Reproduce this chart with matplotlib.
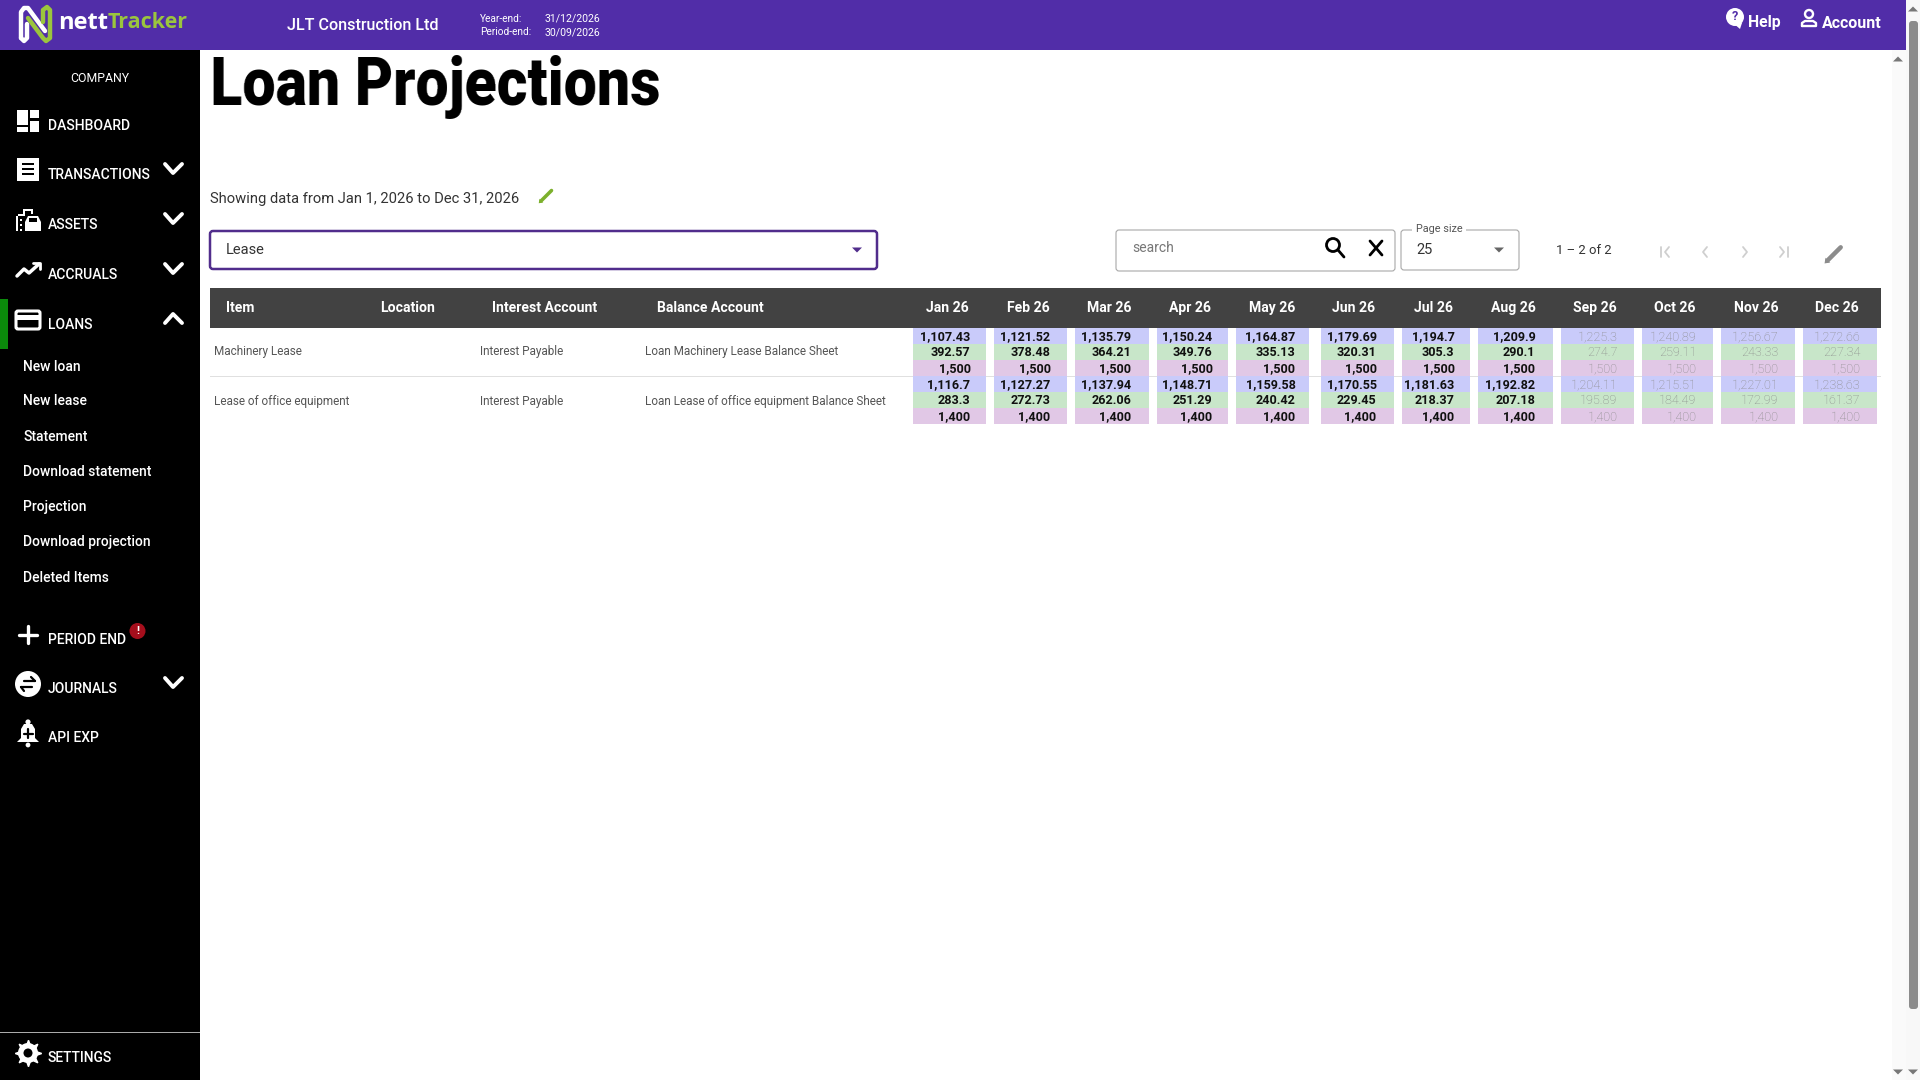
import matplotlib
matplotlib.use("Agg")
import matplotlib.pyplot as plt
import numpy as np
from matplotlib.patches import Rectangle, Circle, Polygon, FancyBboxPatch

months = ["Jan 26","Feb 26","Mar 26","Apr 26","May 26","Jun 26","Jul 26","Aug 26","Sep 26","Oct 26","Nov 26","Dec 26"]
machinery_principal = [1107.43,1121.52,1135.79,1150.24,1164.87,1179.69,1194.7,1209.9,1225.3,1240.89,1256.67,1272.66]
machinery_interest = [392.57,378.48,364.21,349.76,335.13,320.31,305.3,290.1,274.7,259.11,243.33,227.34]
machinery_payment = [1500]*12
office_principal = [1116.7,1127.27,1137.94,1148.71,1159.58,1170.55,1181.63,1192.82,1204.11,1215.51,1227.01,1238.63]
office_interest = [283.3,272.73,262.06,251.29,240.42,229.45,218.37,207.18,195.89,184.49,172.99,161.37]
office_payment = [1400]*12
closed_months = 8
items = ["Machinery Lease","Lease of office equipment"]
interest_accounts = ["Interest Payable","Interest Payable"]
balance_accounts = ["Loan Machinery Lease Balance Sheet","Loan Lease of office equipment Balance Sheet"]
text_columns = ["Item","Location","Interest Account","Balance Account"]
menu_main = ["DASHBOARD","TRANSACTIONS","ASSETS","ACCRUALS","LOANS"]
menu_sub = ["New loan","New lease","Statement","Download statement","Projection","Download projection","Deleted Items"]

# page layout, in screen pixels
col_left = [913,994,1075,1157,1236,1321,1402,1478,1561,1642,1721,1803]
col_right = [986,1067,1149,1228,1309,1394,1470,1553,1634,1713,1795,1877]
col_text = [971,1051,1132,1213,1296,1377,1455,1536,1618,1697,1779,1861]
col_head = [947,1028,1109,1190,1272,1354,1433,1513,1595,1675,1756,1837]
main_y = [125,174,224,274,324]
sub_y = [366,400,436,471,506,541,577]

PURPLE="#512DA8"; DARK="#424242"; BLUE="#C9CBFA"; GREEN="#C8E6C9"; PINK="#E1C8E6"; LOGO="#9BC53D"; PENCIL="#7CB02C"

plt.rcParams['font.family'] = ['Roboto','DejaVu Sans']
fig = plt.figure(figsize=(19.2,10.8), dpi=100, facecolor="white")
ax = fig.add_axes([0,0,1,1]); ax.set_xlim(0,1920); ax.set_ylim(1080,0); ax.axis("off")

def T(x,y,s,size=10,color="black",weight="normal",ha="left",**kw):
    return ax.text(x,y+1,s,fontsize=size,color=color,fontweight=weight,ha=ha,va="center",**kw)
def R(x0,y0,x1,y1,c,**kw):
    ax.add_patch(Rectangle((x0,y0),x1-x0,y1-y0,facecolor=c,edgecolor="none",**kw))
def L(pts,c="white",lw=2,**kw):
    ax.plot([p[0] for p in pts],[p[1] for p in pts],color=c,lw=lw,solid_capstyle="round",solid_joinstyle="round",**kw)
def box(x0,y0,x1,y1,ec,lw):
    ax.add_patch(FancyBboxPatch((x0+3,y0+3),x1-x0-6,y1-y0-6,boxstyle="round,pad=3,rounding_size=3",facecolor="white",edgecolor=ec,lw=lw))
def tri(x,y,c,w=5,h=5,up=False):
    s=-1 if up else 1
    ax.add_patch(Polygon([(x-w,y-s*h/2),(x+w,y-s*h/2),(x,y+s*h/2)],facecolor=c,edgecolor="none"))
def pencil(x,y,c,s=1.0):
    L([(x-8*s,y+8*s),(x+6*s,y-6*s)],c,lw=3.4*s)
    ax.add_patch(Polygon([(x-11*s,y+11*s),(x-10*s,y+5*s),(x-5*s,y+10*s)],facecolor=c,edgecolor="none"))
def squeeze_to(width_px):
    # the reference's heading is set with tight tracking: fit the rendered text to its width
    def f(img,dpi):
        h,w,_=img.shape
        pos=np.linspace(0,w-1,width_px)
        i0=np.floor(pos).astype(int); i1=np.minimum(i0+1,w-1); t=(pos-i0)[None,:,None]
        return img[:,i0]*(1-t)+img[:,i1]*t,0,0
    return f

# scroll bars
R(1892,50,1906,1080,"#FAFAFA"); R(1906,0,1920,1080,"#F8F8F8")
ax.add_patch(FancyBboxPatch((1910,22),7,986,boxstyle="round,pad=1,rounding_size=3",facecolor="#8C8C8C",edgecolor="none"))
tri(1898,59,"#777777",up=True); tri(1913,9,"#777777",up=True); tri(1898,1072,"#777777"); tri(1913,1072,"#777777")

# header bar
R(0,0,1906,50,PURPLE)
L([(21,38),(21,12),(24,8),(28,8),(45,31)],"white",lw=3.2)
L([(21,38),(24,41),(27,38),(27,24)],"white",lw=3.2)
L([(28,18),(43,38),(46,41),(50,38),(50,10),(47,7),(43,10),(43,22)],LOGO,lw=3.2)
T(58,22,"nett",17,"white","bold",family="Open Sans")
T(108,22,"Tracker",15.5,LOGO,"bold",family="Open Sans")
T(363,25,"JLT Construction Ltd",11.6,"white","medium",ha="center")
T(480,18,"Year-end:",7.3,"white"); T(480,31,"Period-end:",7.3,"white")
T(545,18,"31/12/2026",7.6,"white"); T(545,31,"30/09/2026",7.6,"white")
ax.add_patch(Circle((1735,17),9,facecolor="white",edgecolor="none"))
ax.add_patch(Polygon([(1733,23),(1742,23),(1740,29)],facecolor="white",edgecolor="none"))
T(1735,16,"?",9,PURPLE,"bold",ha="center")
T(1748,22,"Help",11.3,"white","bold")
ax.add_patch(Circle((1809,14),4,facecolor="none",edgecolor="white",lw=1.7))
L([(1802,26),(1802,23),(1805,21),(1813,21),(1816,23),(1816,26),(1802,26)],"white",lw=1.7)
T(1822,22,"Account",11.5,"white","bold")

# sidebar
R(0,50,200,1080,"black")
R(0,299,8,349,"#0B8A0B")
T(100,77,"COMPANY",8.8,"white",ha="center")
for lab,y in zip(menu_main,main_y):
    T(48,y,lab,10,"white","medium")
for lab,y in zip(menu_sub,sub_y):
    T(23,y,lab,10,"white","medium")
T(48,639,"PERIOD END",10,"white","medium"); T(48,688,"JOURNALS",10,"white","medium")
T(48,737,"API EXP",10,"white","medium"); T(48,1057,"SETTINGS",10,"white","medium")
for y in (169,219,269,683):
    L([(165,y-5),(173,y+4),(182,y-5)],"white",lw=2.8)
L([(165,323),(173,314),(182,323)],"white",lw=2.8)
# menu icons
for r in [(17,110,28,125),(17,127,28,132),(30,110,39,118),(30,121,39,132)]:
    R(*r,"white")
R(17,158,39,181,"white")
for y in (164,169,174):
    R(22,y-1,34,y+1,"black")
# assets: building and car
R(16,216,18,231,"white"); R(18,214,23,216,"white"); R(23,209,33,211,"white"); R(23,209,25,216,"white"); R(31,209,33,214,"white")
for y in (219,224,229):
    R(20,y,22,y+2,"white")
ax.add_patch(Polygon([(25,222),(28,216),(38,216),(41,222),(41,231),(25,231)],facecolor="white",edgecolor="none"))
R(29,218,37,222,"black")
L([(17,276),(24,269),(29,273),(39,264)],"white",lw=2.5); L([(33,263),(40,263),(40,269)],"white",lw=2)
ax.add_patch(FancyBboxPatch((17,312),22,16,boxstyle="round,pad=1,rounding_size=2",facecolor="black",edgecolor="white",lw=2.2))
R(17,315,39,320,"white")
L([(28,626),(28,643)],"white",lw=2.4); L([(19,635),(37,635)],"white",lw=2.4)
ax.add_patch(Circle((137.5,631),8,facecolor="#A50E1C",edgecolor="none"))
T(137.5,630,"!",8,"white","bold",ha="center")
ax.add_patch(Circle((28,684),13,facecolor="white",edgecolor="none"))
L([(24,681),(35,681)],"black",lw=1.6); L([(21,687),(32,687)],"black",lw=1.6)
L([(31,677),(35,681)],"black",lw=1.6); L([(24,691),(21,687)],"black",lw=1.6)
ax.add_patch(Polygon([(17,742),(21,738),(21,729),(24,724),(32,724),(35,729),(35,738),(39,742)],facecolor="white",edgecolor="none"))
ax.add_patch(Circle((28,722),2.6,facecolor="white",edgecolor="none"))
ax.add_patch(Circle((28,745),2.4,facecolor="white",edgecolor="none"))
L([(28,729),(28,738)],"black",lw=1.6); L([(23.5,733.5),(32.5,733.5)],"black",lw=1.6)
R(0,1032,200,1033,"#AAAAAA")
ax.plot([28],[1053],marker=(8,1,0),ms=19,color="white",zorder=2)
ax.add_patch(Circle((28,1053),10,facecolor="white",edgecolor="none",zorder=2))
ax.add_patch(Circle((28,1053),4.5,facecolor="black",edgecolor="none",zorder=3))

# title and filter row
title = ax.text(210,105,"Loan Projections",fontsize=47.5,color="black",fontweight="black",ha="left",va="baseline")
title.set_agg_filter(squeeze_to(446))
T(210,198,"Showing data from Jan 1, 2026 to Dec 31, 2026",10.63,"#333333")
pencil(547,195,PENCIL,0.75)
box(210,231,877,269,"#512D8C",1.8)
T(226,248.5,"Lease",10.5,"#333333"); tri(857,250,"#512D8C")
box(1116,230,1395,271,"#A8A8A8",0.8)
T(1132,246.5,"search",10,"#777777")
ax.add_patch(Circle((1333,245),6.5,facecolor="none",edgecolor="black",lw=2))
L([(1338,250),(1344,257)],"black",lw=2)
L([(1370,241),(1382,255)],"black",lw=2); L([(1382,241),(1370,255)],"black",lw=2)
box(1401,230,1519,270,"#A8A8A8",0.8)
R(1412,226,1466,233,"white")
T(1439,228.5,"Page size",7.8,"#555555",ha="center")
T(1416,249,"25",10.5,"#333333"); tri(1499,250,"#666666")
T(1584,249,"1 – 2 of 2",9.4,"#333333",ha="center")
GREY="#CFCFCF"
L([(1661,247),(1661,257)],GREY,lw=1.3); L([(1669,247),(1665,252),(1669,257)],GREY,lw=1.3)
L([(1707,247),(1703,252),(1707,257)],GREY,lw=1.3)
L([(1743,247),(1747,252),(1743,257)],GREY,lw=1.3)
L([(1788,247),(1788,257)],GREY,lw=1.3); L([(1780,247),(1784,252),(1780,257)],GREY,lw=1.3)
pencil(1835,253,"#8C8C8C",0.95)

# table
R(210,288,1881,328,DARK)
for lab,x in zip(text_columns,(226,380,492,657)):
    T(x,307,lab,10.1,"white","bold")
for m,x in zip(months,col_head):
    T(x,307,m,10.1,"white","bold",ha="center")
R(210,376,1881,377,"#E0E0E0")
for it,ia,ba,y in zip(items,interest_accounts,balance_accounts,(351,400)):
    T(214,y,it,8.45,"#555555"); T(480,y,ia,8.45,"#555555"); T(645,y,ba,8.45,"#555555")

rows = [machinery_principal,machinery_interest,machinery_payment,office_principal,office_interest,office_payment]
colors = [BLUE,GREEN,PINK,BLUE,GREEN,PINK]
for r,(vals,c) in enumerate(zip(rows,colors)):
    y0 = 328+16*r
    for m,v in enumerate(vals):
        R(col_left[m],y0,col_right[m],y0+16.3,c)
        active = m<closed_months
        T(col_text[m]-0.5,y0+7.5,f"{v:,}",9.1,"#111111" if active else "#8A8A8A","bold" if active else "light",ha="right")

fig.savefig("out.png",dpi=100)
